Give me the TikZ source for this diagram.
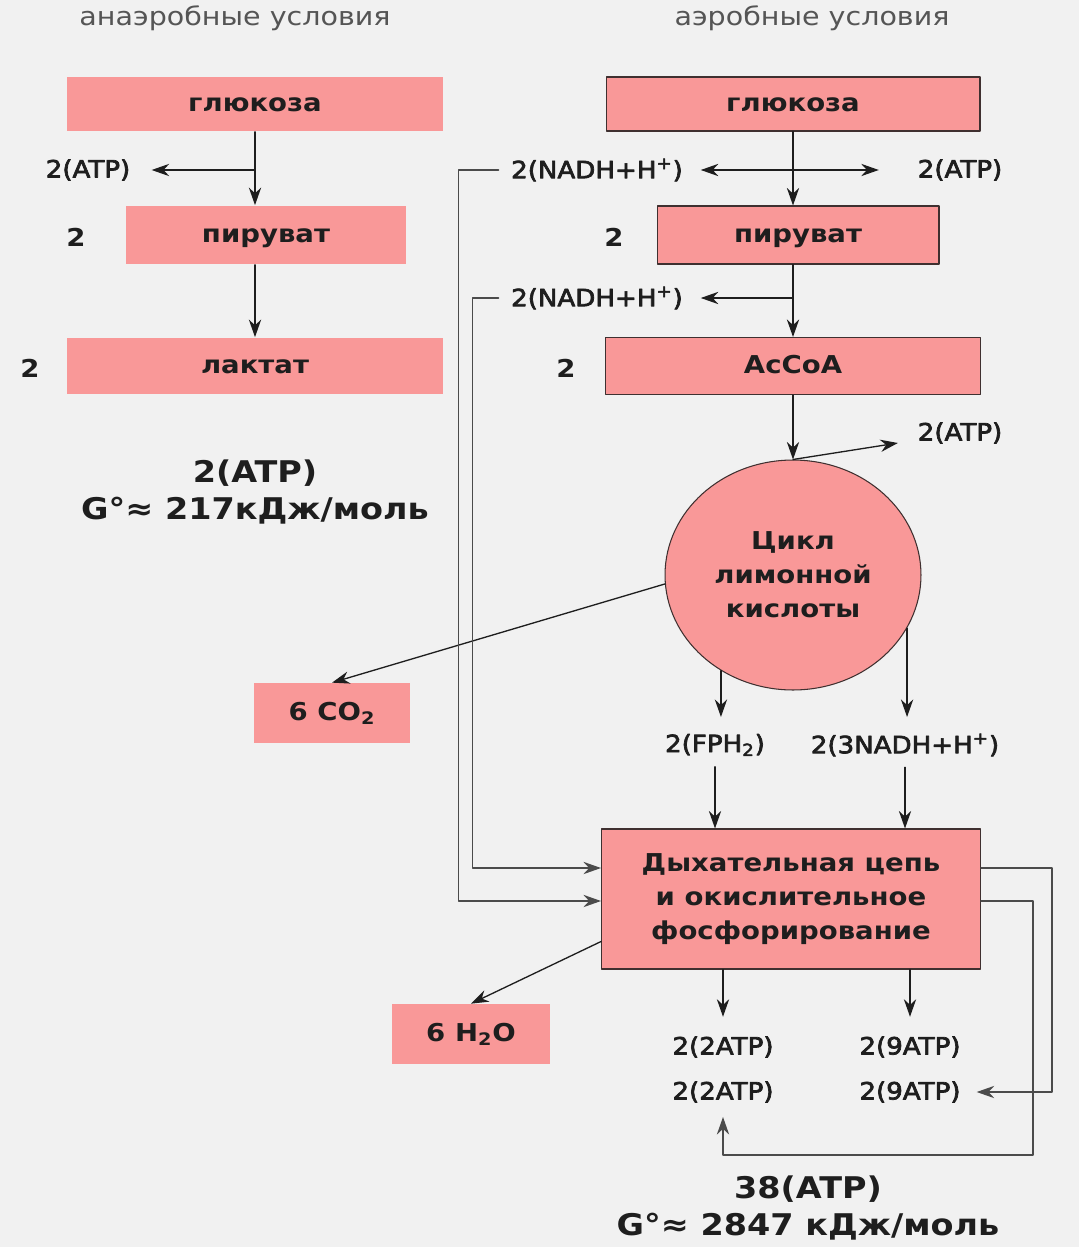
\documentclass[tikz,border=0pt]{standalone}
\usepackage{fontspec}
\setmainfont{DejaVu Sans}[FakeStretch=1.12]
\newfontfamily\medfont{DejaVu Sans}[FakeStretch=1.1,FakeBold=3]
\usetikzlibrary{arrows.meta,shapes.geometric,calc}
\definecolor{boxfill}{RGB}{249,152,152}
\definecolor{pagebg}{RGB}{241,241,241}
\definecolor{inkdark}{RGB}{30,30,30}
\definecolor{titlegray}{RGB}{85,85,85}
\tikzset{
    blk/.style={
        fill=boxfill, inner sep=0pt, text=inkdark,
        font=\fontsize{14}{19.3}\selectfont\bfseries
    },
    oneline/.style={text height=9pt, text depth=1pt},
    blkline/.style={blk, draw=inkdark!85!boxfill, line width=0.6pt},
    lbl/.style={inner sep=2pt, text=inkdark, font=\medfont\fontsize{13.5}{16}\selectfont},
    num/.style={inner sep=2pt, text=inkdark, font=\fontsize{14}{17}\selectfont\bfseries},
    sumtxt/.style={align=center, text=inkdark, font=\fontsize{17}{21.5}\selectfont\bfseries},
    ttl/.style={text=titlegray, font=\fontsize{14.5}{17}\selectfont},
    arr/.style={-{Stealth[length=10pt,width=7pt]}, line width=0.75pt, draw=inkdark},
    arrtwo/.style={{Stealth[length=10pt,width=7pt]}-{Stealth[length=10pt,width=7pt]}, line width=0.75pt, draw=inkdark},
    fb/.style={arr, line width=0.9pt, draw=inkdark!80}
}

\begin{document}
\begin{tikzpicture}[x=0.02cm,y=-0.02cm,line cap=round,line join=round]

% --- page (pixel grid of the reference) ---
    \fill[pagebg] (0,0) rectangle (1079,1247);
    \useasboundingbox (0,0) rectangle (1079,1247);
    \coordinate (rowa) at (0,868);   % upper feed into the chain
    \coordinate (rowb) at (0,901);   % lower feed into the chain
    \coordinate (tipy) at (0,717);   % tips under the cycle

% titles
    \node[ttl] at (235,18) {анаэробные условия};
    \node[ttl] at (812,18) {аэробные условия};

% --- anaerobic column ---
    \node[blk, oneline, minimum width=7.54cm, minimum height=1.1cm] (glc1) at (255,104) {глюкоза};
    \node[blk, oneline, minimum width=5.62cm, minimum height=1.18cm] (pyr1) at (266,235) {пируват};
    \node[blk, oneline, minimum width=7.54cm, minimum height=1.14cm] (lac1) at (255,366) {лактат};
    \node[num] at (76,237) {2};
    \node[num] at (30,368) {2};
    \node[lbl] (atp1) at (88,170) {2(ATP)};

    \draw[arr] (glc1.south) -- (glc1.south |- pyr1.north);
    \draw[arr, shorten >=10pt] (glc1.south |- atp1) -- (atp1.east);
    \draw[arr] (pyr1.south -| lac1.north) -- (lac1.north);

    \node[sumtxt] at (255,492) {2(ATP)\\G°≈ 217кДж/моль};

% --- aerobic column ---
    \node[blkline, oneline, minimum width=7.48cm, minimum height=1.08cm] (glc2) at (793,104) {глюкоза};
    \node[blkline, oneline, minimum width=5.64cm, minimum height=1.16cm] (pyr2) at (798,235) {пируват};
    \node[blkline, oneline, minimum width=7.5cm, minimum height=1.14cm] (acoa) at (793,366) {AcCoA};
    \node[num] at (614,237) {2};
    \node[num] at (566,368) {2};

    \node[lbl] (nadh1) at (597,170) {2(NADH+H\textsuperscript{+})};
    \node[lbl] (atp2) at (960,170) {2(ATP)};
    \node[lbl] (nadh2) at (597,298) {2(NADH+H\textsuperscript{+})};
    \node[lbl] (atp3) at (960,433) {2(ATP)};

    \draw[arr] (glc2.south) -- (glc2.south |- pyr2.north);
    \draw[arrtwo, shorten <=8pt, shorten >=20pt] (nadh1.east) -- (atp2.west);
    \draw[arr] (glc2.south |- pyr2.south) -- (glc2.south |- acoa.north);
    \draw[arr, shorten >=8pt] (glc2.south |- nadh2) -- (nadh2.east);

% citric acid cycle
    \node[blkline, ellipse, minimum width=5.12cm, minimum height=4.6cm, align=center] (circ) at (793,575)
        {Цикл\\лимонной\\кислоты};
    \draw[arr] (acoa.south) -- (circ.north);
    \draw[arr] (circ.north) -- ($(atp3.west)+(-16,10)$);

    \node[blk, oneline, minimum width=3.12cm, minimum height=1.2cm] (co2) at (332,713) {6 CO\textsubscript{2}};
    \draw[arr] (circ.184) -- (co2.north);

    \node[lbl] (fph) at (715,745) {2(FPH\textsubscript{2})};
    \node[lbl] (nadh3) at (905,745) {2(3NADH+H\textsuperscript{+})};
    \draw[arr] (circ.233) -- (circ.233 |- tipy);
    \draw[arr] (circ.-25) -- (circ.-25 |- tipy);

% respiratory chain
    \node[blkline, minimum width=7.58cm, minimum height=2.8cm, align=center] (resp) at (791,899)
        {Дыхательная цепь\\и окислительное\\фосфорирование};
    \draw[arr, shorten <=4pt] (fph.south) -- (fph.south |- resp.north);
    \draw[arr, shorten <=4pt] (nadh3.south) -- (nadh3.south |- resp.north);

    \node[blk, oneline, minimum width=3.18cm, minimum height=1.2cm] (h2o) at (471,1034) {6 H\textsubscript{2}O};
    \draw[arr] ($(resp.south west)+(0,-28)$) -- (h2o.north);

    \node[lbl] (atpa1) at (723,1047) {2(2ATP)};
    \node[lbl] (atpa2) at (723,1092) {2(2ATP)};
    \node[lbl] (atpb1) at (910,1047) {2(9ATP)};
    \node[lbl] (atpb2) at (910,1092) {2(9ATP)};
    \draw[arr, shorten >=9pt] (resp.south -| atpa1) -- (atpa1.north);
    \draw[arr, shorten >=9pt] (resp.south -| atpb1) -- (atpb1.north);

% feedback lines
    \draw[fb, shorten <=5pt] (nadh1.west) -- ++(-49,0) |- (resp.west |- rowb);
    \draw[fb, shorten <=5pt] (nadh2.west) -- ++(-35,0) |- (resp.west |- rowa);
    \draw[fb, shorten >=7pt] (resp.east |- rowa) -- ++(71,0) |- (atpb2.east);
    \draw[fb, shorten >=6pt] (resp.east |- rowb) -- ++(52,0) -- ++(0,254) -| (atpa2.south);

    \node[sumtxt] at (808,1208) {38(ATP)\\G°≈ 2847 кДж/моль};

\end{tikzpicture}
\end{document}
